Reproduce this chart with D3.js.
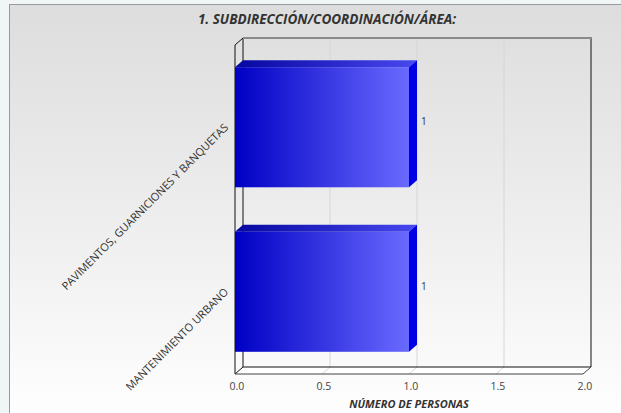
<!DOCTYPE html>
<html>
<head>
<meta charset="utf-8">
<script src="https://cdn.jsdelivr.net/npm/d3@7"></script>
<style>
    html, body { margin: 0; padding: 0; background: #f0f5f5; }
    svg { display: block; font-family: 'Open Sans', sans-serif; }
</style>
</head>
<body>
<svg id="chart" width="621" height="413"></svg>
<script>
var categories = [ 'PAVIMENTOS, GUARNICIONES Y BANQUETAS', 'MANTENIMIENTO URBANO' ],
    values = [ 1, 1 ],
    xTicks = [ 0, 0.5, 1, 1.5, 2 ],
    title = '1. SUBDIRECCIÓN/COORDINACIÓN/ÁREA:',
    xTitle = 'NÚMERO DE PERSONAS';

(function(){
    'use strict';

    var svg = d3.select( '#chart' ),
        depth = { x: 8, y: -7 },
        plot = { left: 235, right: 583, top: 45, bottom: 374 };

    var x = d3.scaleLinear()
        .domain( [ 0, 2 ] )
        .range( [ plot.left, plot.right ] );

    var y = d3.scaleBand()
        .domain( categories )
        .range( [ plot.top, plot.bottom ] )
        .paddingInner( 0.27 )
        .paddingOuter( 0.135 );

    var defs = svg.append( 'defs' );

    function gradient( id, stops, vertical ){
        var g = defs.append( 'linearGradient' )
            .attr( 'id', id )
            .attr( 'x1', 0 ).attr( 'y1', 0 )
            .attr( 'x2', vertical ? 0 : 1 ).attr( 'y2', vertical ? 1 : 0 );
        stops.forEach(function( s ){
            g.append( 'stop' ).attr( 'offset', s[0] ).attr( 'stop-color', s[1] );
        });
    }

    gradient( 'panelBg', [ [ 0, '#dddddd' ], [ 0.55, '#efefef' ], [ 1, '#ffffff' ] ], true );
    gradient( 'barFront', [ [ 0, '#0000c4' ], [ 1, '#6a6aff' ] ] );
    gradient( 'barTop', [ [ 0, '#0606a0' ], [ 1, '#4848f0' ] ] );

    // panel
    svg.append( 'rect' )
        .attr( 'x', 9.5 ).attr( 'y', 4.5 )
        .attr( 'width', 620 ).attr( 'height', 420 )
        .attr( 'fill', 'url(#panelBg)' )
        .attr( 'stroke', '#9a9a9a' );

    // floor
    var bx0 = plot.left + depth.x, bx1 = plot.right + depth.x,
        by0 = plot.top + depth.y, by1 = plot.bottom + depth.y;

    svg.append( 'path' )
        .attr( 'd', 'M' + plot.left + ',' + plot.bottom + 'L' + bx0 + ',' + by1 +
            'L' + bx1 + ',' + by1 + 'L' + plot.right + ',' + plot.bottom + 'Z' )
        .attr( 'fill', '#ffffff' )
        .attr( 'stroke', 'none' );

    // grid on back wall and floor
    var grid = svg.append( 'g' ).attr( 'class', 'grid' );
    grid.selectAll( 'path' )
        .data( xTicks.slice( 1, -1 ) )
        .enter().append( 'path' )
        .attr( 'd', function( d ){
            return 'M' + ( x( d ) + depth.x ) + ',' + by0 +
                'L' + ( x( d ) + depth.x ) + ',' + by1 +
                'L' + x( d ) + ',' + plot.bottom;
        })
        .attr( 'fill', 'none' )
        .attr( 'stroke', '#d6d6d6' );

    // walls
    var frame = svg.append( 'g' ).attr( 'fill', 'none' ).attr( 'stroke', '#111' );
    frame.append( 'path' )
        .attr( 'd', 'M' + plot.left + ',' + plot.bottom + 'L' + plot.left + ',' + plot.top +
            'L' + bx0 + ',' + by0 + 'L' + bx0 + ',' + by1 +
            'L' + plot.left + ',' + plot.bottom );
    frame.append( 'path' )
        .attr( 'd', 'M' + bx0 + ',' + by1 + 'L' + bx1 + ',' + by1 + 'L' + bx1 + ',' + by0 );
    frame.append( 'path' )
        .attr( 'd', 'M' + plot.left + ',' + plot.bottom + 'L' + plot.right + ',' + plot.bottom +
            'L' + bx1 + ',' + by1 )
        .attr( 'stroke', '#444' );
    svg.append( 'line' )
        .attr( 'x1', bx0 ).attr( 'x2', bx1 + 1 )
        .attr( 'y1', by0 ).attr( 'y2', by0 )
        .attr( 'stroke', '#8a8a8a' )
        .attr( 'stroke-width', 2 );

    // bars
    var bars = svg.append( 'g' ).attr( 'class', 'bars' )
        .selectAll( 'g' )
        .data( categories.map(function( c, i ){ return { cat: c, val: values[i] }; }) )
        .enter().append( 'g' );

    bars.append( 'path' )
        .attr( 'fill', 'url(#barTop)' )
        .attr( 'd', function( d ){
            var x0 = x( 0 ), x1 = x( d.val ), t = y( d.cat );
            return 'M' + x0 + ',' + t + 'L' + ( x0 + depth.x ) + ',' + ( t + depth.y ) +
                'L' + ( x1 + depth.x ) + ',' + ( t + depth.y ) + 'L' + x1 + ',' + t + 'Z';
        });

    bars.append( 'path' )
        .attr( 'fill', '#0000e4' )
        .attr( 'd', function( d ){
            var x1 = x( d.val ), t = y( d.cat ), b = t + y.bandwidth();
            return 'M' + x1 + ',' + t + 'L' + ( x1 + depth.x ) + ',' + ( t + depth.y ) +
                'L' + ( x1 + depth.x ) + ',' + ( b + depth.y ) + 'L' + x1 + ',' + b + 'Z';
        });

    bars.append( 'rect' )
        .attr( 'fill', 'url(#barFront)' )
        .attr( 'x', x( 0 ) )
        .attr( 'y', function( d ){ return y( d.cat ); } )
        .attr( 'width', function( d ){ return x( d.val ) - x( 0 ); } )
        .attr( 'height', y.bandwidth() );

    bars.append( 'text' )
        .attr( 'x', function( d ){ return x( d.val ) + depth.x + 4; } )
        .attr( 'y', function( d ){ return y( d.cat ) + y.bandwidth() / 2 - 2; } )
        .attr( 'font-size', 10 )
        .attr( 'fill', '#333' )
        .text( function( d ){ return d.val; } );

    // x axis labels
    svg.append( 'g' ).attr( 'class', 'x-axis' )
        .selectAll( 'text' )
        .data( xTicks )
        .enter().append( 'text' )
        .attr( 'x', function( d ){ return x( d ) + 2; } )
        .attr( 'y', 390 )
        .attr( 'text-anchor', 'middle' )
        .attr( 'font-size', 10.5 )
        .attr( 'fill', '#444' )
        .text( d3.format( '.1f' ) );

    // category labels
    svg.append( 'g' ).attr( 'class', 'y-axis' )
        .selectAll( 'text' )
        .data( categories )
        .enter().append( 'text' )
        .attr( 'transform', function( d ){
            return 'translate(' + ( plot.left - 6 ) + ',' + ( y( d ) + y.bandwidth() / 2 + 1 ) + ') rotate(-45)';
        })
        .attr( 'text-anchor', 'end' )
        .attr( 'font-size', 11 )
        .attr( 'fill', '#333' )
        .text( function( d ){ return d; } );

    svg.append( 'text' )
        .attr( 'x', 327 ).attr( 'y', 24 )
        .attr( 'text-anchor', 'middle' )
        .attr( 'font-size', 13.5 )
        .attr( 'font-weight', 'bold' )
        .attr( 'font-style', 'italic' )
        .attr( 'fill', '#333' )
        .text( title );

    svg.append( 'text' )
        .attr( 'x', 409 ).attr( 'y', 408 )
        .attr( 'text-anchor', 'middle' )
        .attr( 'font-size', 11 )
        .attr( 'font-weight', 'bold' )
        .attr( 'font-style', 'italic' )
        .attr( 'fill', '#333' )
        .text( xTitle );
})();
</script>
</body>
</html>
